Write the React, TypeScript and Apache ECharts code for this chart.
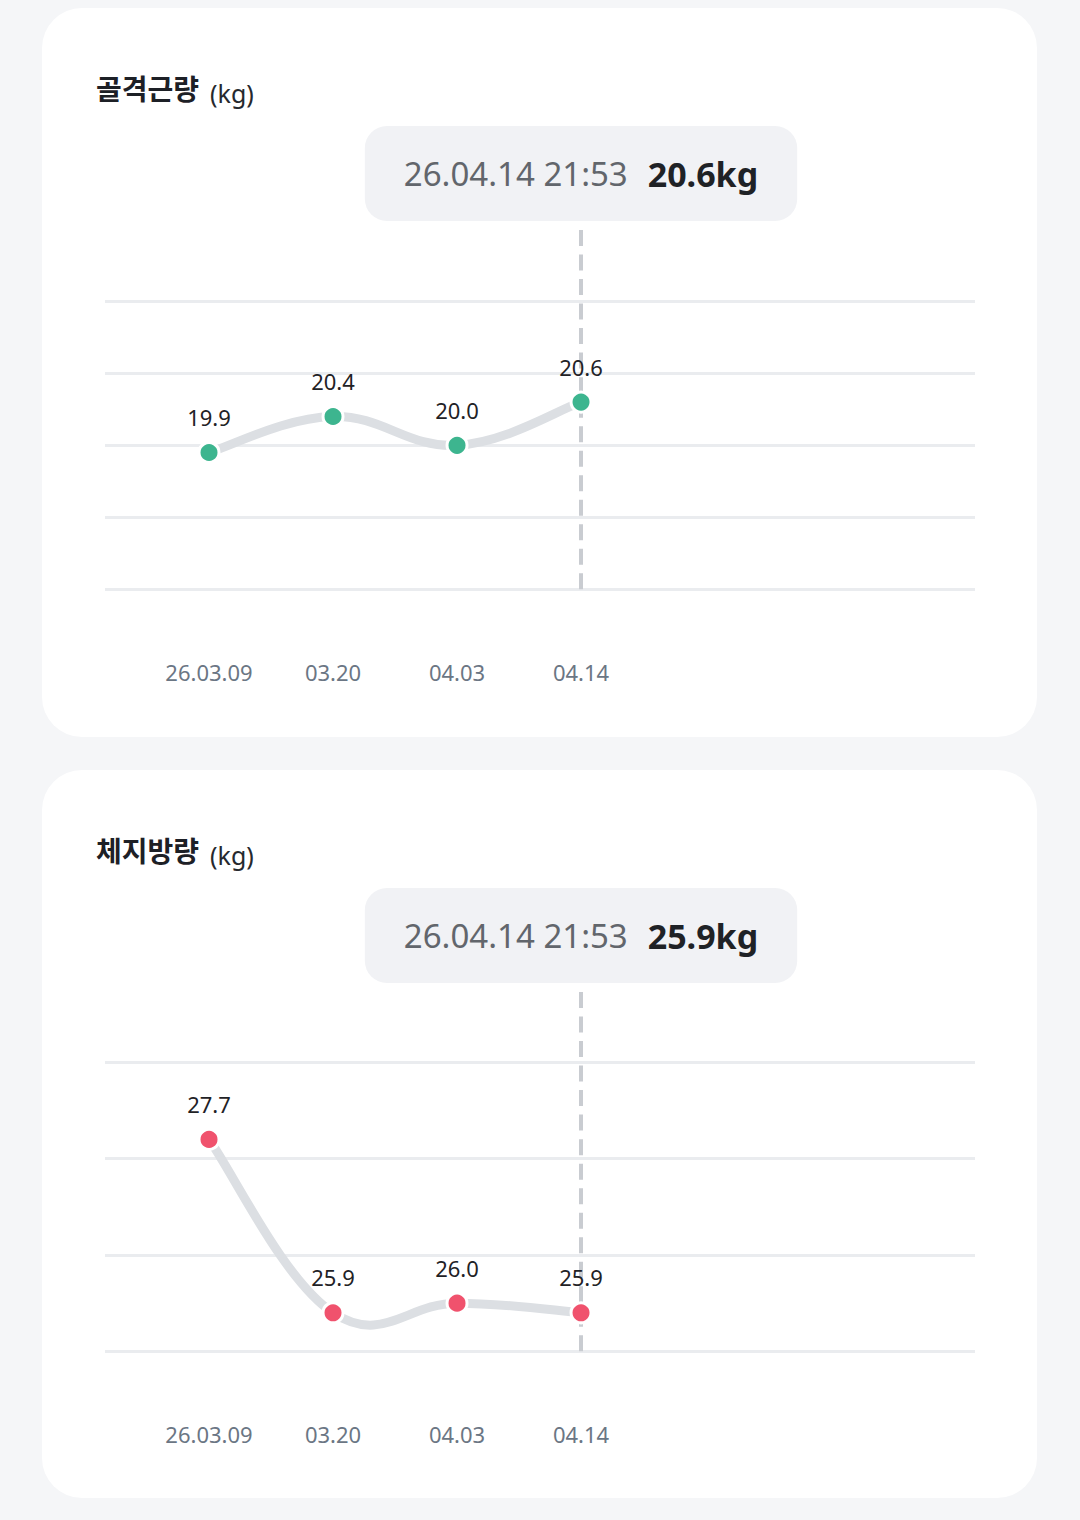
import React, { useEffect, useRef } from "react";
import * as echarts from "echarts";

// ---- data ----
const dates = ["26.03.09", "03.20", "04.03", "04.14"];
const muscleValues = [19.9, 20.4, 20.0, 20.6];
const fatValues = [27.7, 25.9, 26.0, 25.9];
const selectedIndex = 3;
const selectedTime = "26.04.14 21:53";
const unit = "kg";
const muscleTitle = "골격근량";
const fatTitle = "체지방량";
const muscleYRange = [18, 22.99]; // ticks 18..22
const fatYRange = [25.5, 29.23]; // ticks 25.5..28.5
const xRange = [-0.8387, 6.177];

const FONT_NUM = '"Noto Sans", "Noto Sans CJK KR", sans-serif';
const FONT_KR = '"Noto Sans CJK KR", "Noto Sans", sans-serif';
const CURVE_INTENSITY = 0.2;

type CardProps = {
  title: string;
  values: number[];
  color: string;
  yRange: number[];
  top: number;
  height: number;
};

function ChartCard({ title, values, color, yRange, top, height }: CardProps) {
  const ref = useRef<HTMLDivElement>(null);
  useEffect(() => {
    if (!ref.current) return;
    const chart = echarts.init(ref.current, null, { renderer: "svg" });
    const points = values.map((v, i) => [i, v]);
    const clampIdx = (j: number) => Math.max(0, Math.min(values.length - 1, j));
    const option: any = {
      animation: false,
      title: {
        left: 54,
        top: 56,
        padding: 0,
        text: `{t|${title}}{u|(${unit})}`,
        textStyle: {
          rich: {
            t: {
              fontSize: 28,
              fontWeight: "bold",
              color: "#1d2026",
              fontFamily: FONT_KR,
              lineHeight: 38,
              verticalAlign: "bottom",
            },
            u: {
              fontSize: 25,
              fontWeight: "normal",
              color: "#26292e",
              fontFamily: FONT_NUM,
              lineHeight: 38,
              verticalAlign: "bottom",
              padding: [0, 0, -4, 11],
            },
          },
        },
      },
      grid: { left: 63, right: 62, top: 222, height: 359.3 },
      xAxis: {
        type: "value",
        min: xRange[0],
        max: xRange[1],
        splitNumber: 7,
        axisLine: { show: false },
        axisTick: { show: false },
        splitLine: { show: false },
        axisLabel: {
          margin: 72,
          color: "#6b7684",
          fontSize: 22,
          fontFamily: FONT_NUM,
          formatter: (v: number) =>
            Number.isInteger(v) && dates[v] !== undefined ? dates[v] : "",
        },
      },
      yAxis: {
        type: "value",
        min: yRange[0],
        max: yRange[1],
        interval: 1,
        axisLine: { show: false },
        axisTick: { show: false },
        axisLabel: { show: false },
        splitLine: {
          show: true,
          showMaxLine: false,
          lineStyle: { color: "#eaecef", width: 3 },
        },
      },
      series: [
        {
          type: "custom",
          silent: true,
          z: 2,
          data: points,
          renderItem: (params: any, api: any) => {
            const i = params.dataIndex;
            if (i >= values.length - 1) return null;
            const p = (j: number) => {
              const k = clampIdx(j);
              return api.coord([k, values[k]]);
            };
            const p0 = p(i - 1);
            const p1 = p(i);
            const p2 = p(i + 1);
            const p3 = p(i + 2);
            const t = CURVE_INTENSITY;
            return {
              type: "bezierCurve",
              shape: {
                x1: p1[0],
                y1: p1[1],
                x2: p2[0],
                y2: p2[1],
                cpx1: p1[0] + t * (p2[0] - p0[0]),
                cpy1: p1[1] + t * (p2[1] - p0[1]),
                cpx2: p2[0] - t * (p3[0] - p1[0]),
                cpy2: p2[1] - t * (p3[1] - p1[1]),
              },
              style: { stroke: "#dcdfe3", lineWidth: 9, fill: "none" },
            };
          },
        },
        {
          type: "scatter",
          z: 3,
          data: points,
          symbol: "circle",
          symbolSize: 20,
          itemStyle: { color, borderColor: "#ffffff", borderWidth: 3, opacity: 1 },
          emphasis: { disabled: true },
          label: {
            show: true,
            position: "top",
            distance: 13,
            color: "#1f2226",
            opacity: 1,
            fontSize: 22,
            fontFamily: FONT_NUM,
            formatter: (p: any) => Number(p.value[1]).toFixed(1),
          },
          markLine: {
            silent: true,
            symbol: ["none", "none"],
            label: { show: false },
            emphasis: { disabled: true },
            lineStyle: { type: [16, 8.52], color: "#c9ccd1", width: 4, opacity: 1 },
            data: [{ xAxis: selectedIndex }],
            z: 1,
          },
          markPoint: {
            silent: true,
            symbol: "circle",
            symbolSize: 0,
            itemStyle: { color: "transparent" },
            label: {
              show: true,
              position: "top",
              distance: 9,
              backgroundColor: "#f1f2f5",
              borderRadius: 22,
              padding: [26, 39, 26, 39],
              formatter: `{d|${selectedTime}}{v|${values[selectedIndex].toFixed(1)}${unit}}`,
              rich: {
                d: {
                  fontSize: 33,
                  color: "#62666c",
                  fontFamily: FONT_NUM,
                  lineHeight: 43,
                },
                v: {
                  fontSize: 34,
                  fontWeight: "bold",
                  color: "#1f2226",
                  fontFamily: FONT_NUM,
                  lineHeight: 43,
                  padding: [0, 0, 0, 20],
                },
              },
            },
            data: [{ coord: [selectedIndex, yRange[1]] }],
          },
        },
      ],
    };
    chart.setOption(option);
    return () => chart.dispose();
  }, [title, values, color, yRange]);

  return (
    <div
      style={{
        position: "absolute",
        left: 42,
        top,
        width: 995,
        height,
        background: "#ffffff",
        borderRadius: 40,
        overflow: "hidden",
      }}
    >
      <div ref={ref} style={{ width: 995, height }} />
    </div>
  );
}

export default function App() {
  return (
    <div
      style={{
        position: "absolute",
        left: 0,
        top: 0,
        width: 1080,
        height: 1520,
        background: "#f5f6f8",
      }}
    >
      <ChartCard
        title={muscleTitle}
        values={muscleValues}
        color="#3db58f"
        yRange={muscleYRange}
        top={8}
        height={729}
      />
      <ChartCard
        title={fatTitle}
        values={fatValues}
        color="#f0526d"
        yRange={fatYRange}
        top={770}
        height={728}
      />
    </div>
  );
}
